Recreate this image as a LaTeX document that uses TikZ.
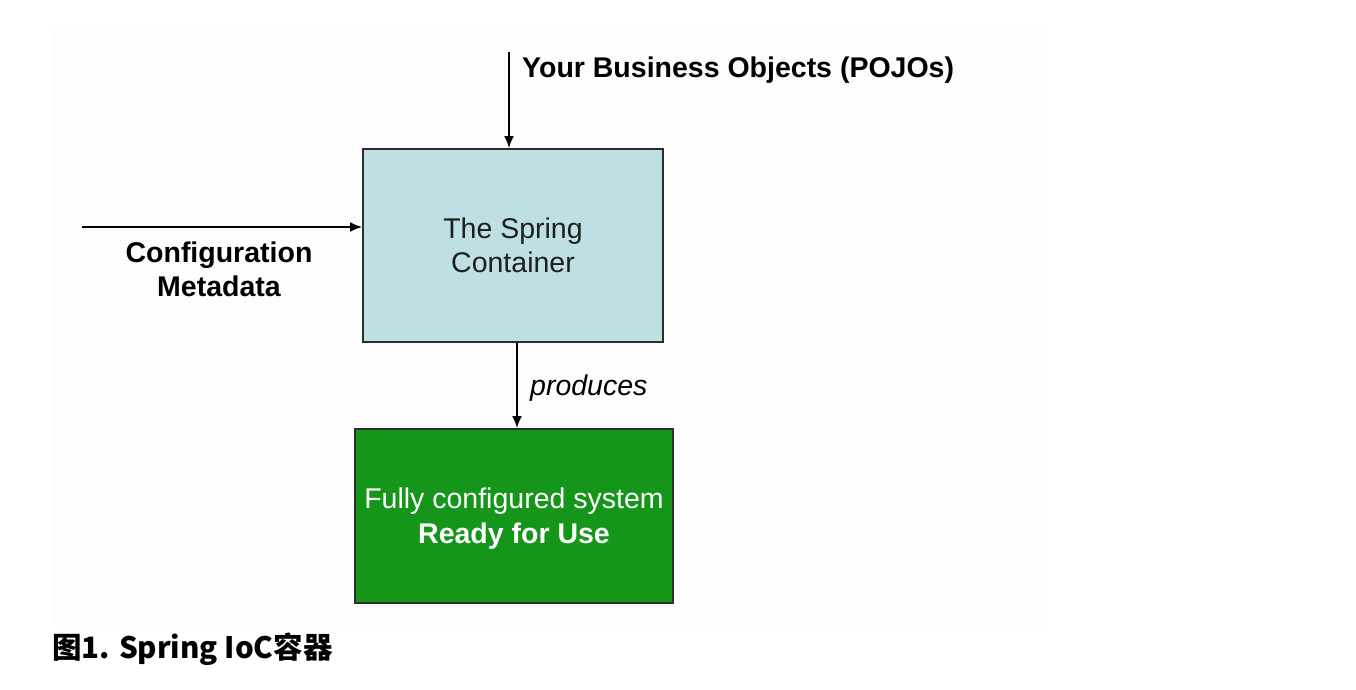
\documentclass[tikz,border=0pt]{standalone}
\usepackage{fontspec}
\setmainfont{Liberation Sans}
\newfontfamily\cjkfont{Noto Sans CJK SC}
\usetikzlibrary{arrows.meta}
\definecolor{containerblue}{RGB}{190,224,228}
\definecolor{readygreen}{RGB}{21,150,26}
\definecolor{boxline}{RGB}{45,45,45}
\definecolor{bgfaint}{RGB}{253,253,253}
\definecolor{darktext}{RGB}{30,30,30}
\tikzset{
  flow/.style={draw=black, line width=1.5pt, -{Latex[length=12pt,width=10pt]}},
  lbl/.style={inner sep=0pt, align=center},
  box/.style={draw=boxline, line width=2pt, inner sep=0pt, align=center, font=\fontsize{28.5}{34}\selectfont},
}
\begin{document}
\begin{tikzpicture}[x=1pt,y=-1pt]
\useasboundingbox (0,0) rectangle (1356,690);
\fill[bgfaint] (52,30) rectangle (1048,625);
\node[box, fill=containerblue, text=darktext, minimum width=300pt, minimum height=193pt] (spring) at (513,245.5) {The Spring\\Container};
\node[box, fill=readygreen, minimum width=318pt, minimum height=174pt] (ready) at (514,516) {};
\node[lbl, text=white, font=\fontsize{28.5}{35}\selectfont] (readytxt) at (514,519) {Fully configured system\\\textbf{Ready for Use}};
\coordinate (pojo) at (509,52);
\coordinate (cfg) at (82,227);
\coordinate (prodx) at (517,0);
\draw[flow] (pojo) -- (pojo |- spring.north);
\draw[flow] (cfg) -- (cfg -| spring.west);
\draw[flow] (spring.south -| prodx) -- (ready.north -| prodx);
\node[lbl, anchor=base west, font=\fontsize{28.5}{34}\selectfont\bfseries] (pojolbl) at (522,78) {Your Business Objects (POJOs)};
\node[lbl, font=\fontsize{28.5}{34}\selectfont\bfseries] (cfglbl) at (219,269) {Configuration\\Metadata};
\node[lbl, anchor=base west, font=\fontsize{28.5}{34}\selectfont\itshape] (prodlbl) at (530,395) {produces};
\node[lbl, anchor=base west, font=\cjkfont\bfseries\fontsize{29.5}{36}\selectfont] (caption) at (52,658) {图1. Spring IoC容器};
\end{tikzpicture}
\end{document}
